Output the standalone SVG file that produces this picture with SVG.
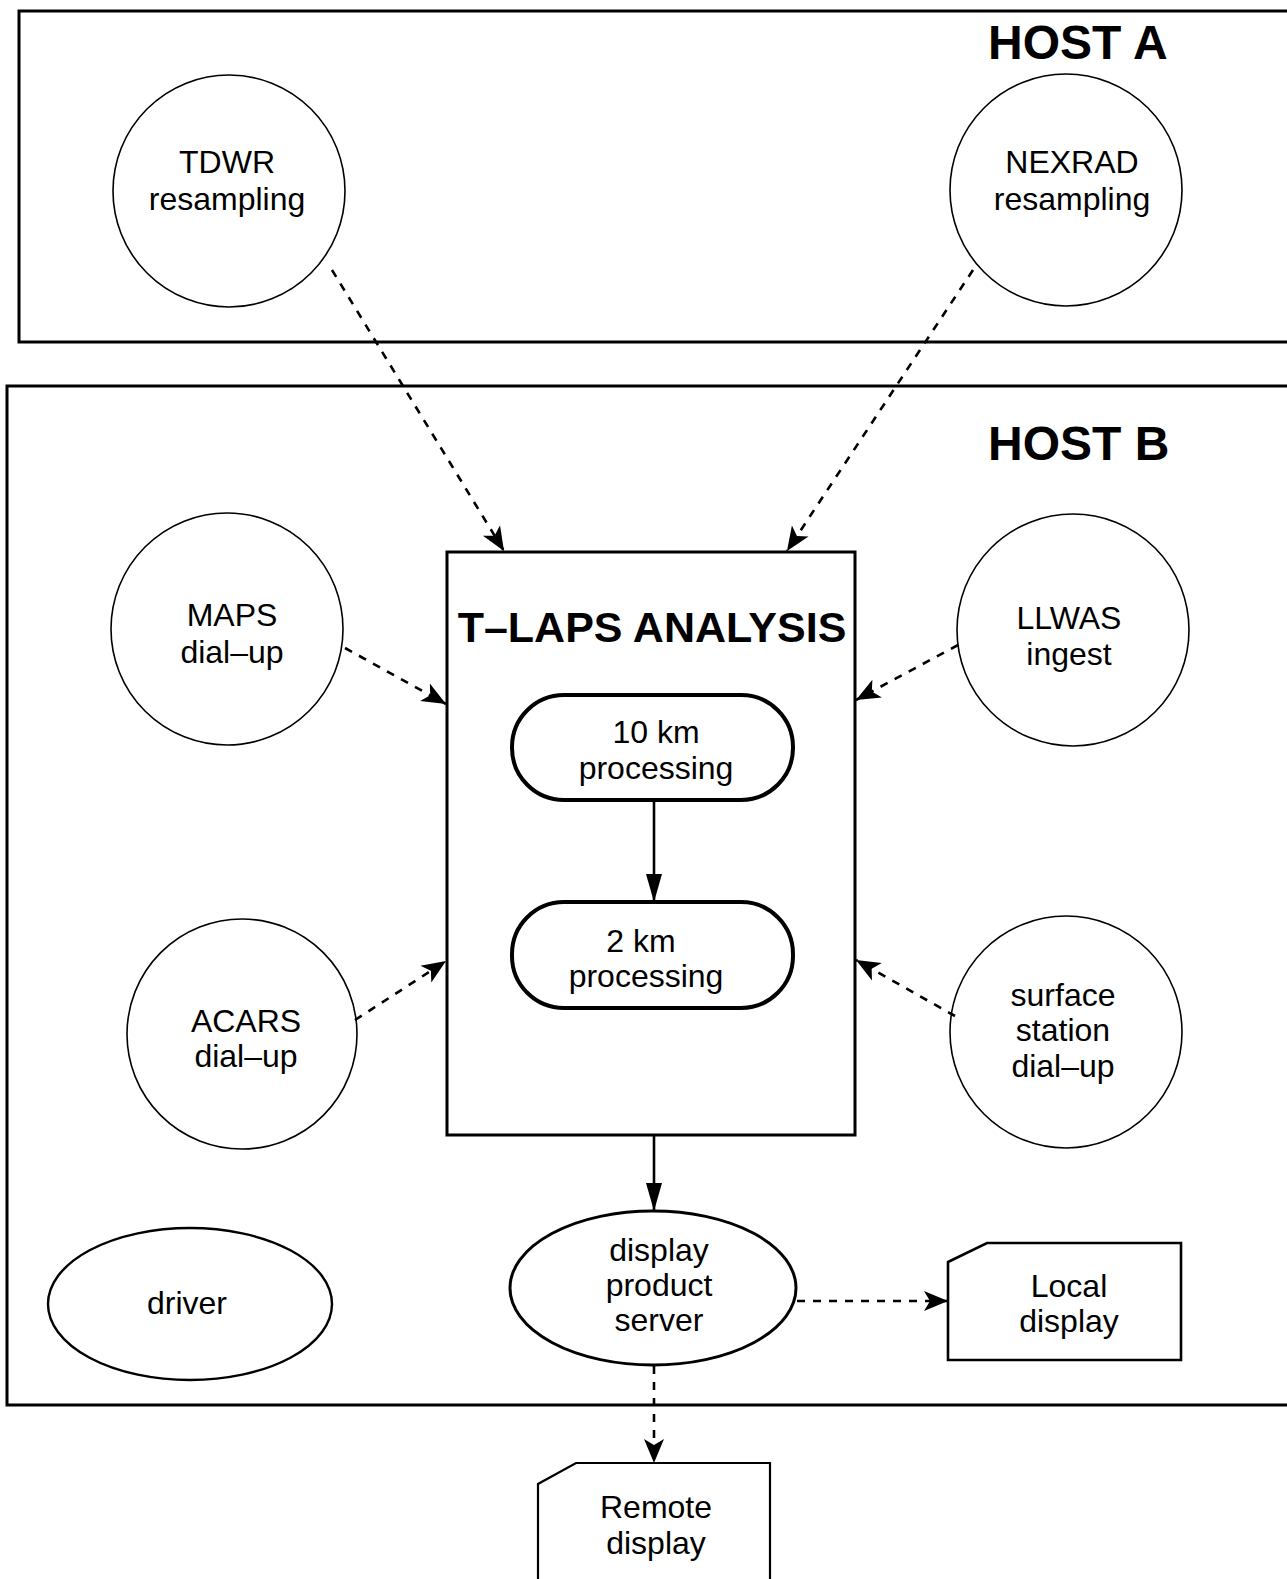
<svg xmlns="http://www.w3.org/2000/svg" width="1287" height="1579" viewBox="0 0 1287 1579">
<style>
  .host{fill:none;stroke:#000;stroke-width:3}
  .proc{fill:#fff;stroke:#000;stroke-width:1.6}
  .thick{fill:#fff;stroke:#000;stroke-width:3}
  .pill{fill:#fff;stroke:#000;stroke-width:4}
  .t{font-family:"Liberation Sans",Arial,Helvetica,sans-serif;font-size:32px;text-anchor:middle;fill:#000}
  .title{font-family:"Liberation Sans",Arial,Helvetica,sans-serif;font-weight:bold;fill:#000}
  .dash{fill:none;stroke:#000;stroke-width:2.6;stroke-dasharray:8 8}
  .solid{fill:none;stroke:#000;stroke-width:2.6}
</style>
<defs>
  <marker id="ah" markerUnits="userSpaceOnUse" markerWidth="26" markerHeight="22" refX="24" refY="11" orient="auto">
    <path d="M0,1 L24,11 L0,21 L6,11 z" fill="#000"/>
  </marker>
  <marker id="sh" markerUnits="userSpaceOnUse" markerWidth="30" markerHeight="18" refX="28" refY="9" orient="auto">
    <path d="M0,1 L28,9 L0,17 z" fill="#000"/>
  </marker>
</defs>

<g id="hostA">
  <path class="host" d="M1290,11 H19 V342 H1290"/>
  <text class="title" x="988" y="59" font-size="48">HOST A</text>
</g>
<g id="hostB">
  <path class="host" d="M1290,386 H7 V1405 H1290"/>
  <text class="title" x="988" y="460" font-size="48">HOST B</text>
</g>

<g id="tdwr">
  <circle class="proc" cx="229" cy="191" r="116"/>
  <text class="t" x="227" y="173">TDWR</text>
  <text class="t" x="227" y="210">resampling</text>
</g>
<g id="nexrad">
  <circle class="proc" cx="1066" cy="190" r="116"/>
  <text class="t" x="1072" y="173">NEXRAD</text>
  <text class="t" x="1072" y="210">resampling</text>
</g>

<g id="tlaps">
  <rect class="thick" x="447" y="552" width="408" height="583"/>
  <text class="title" x="652" y="642" font-size="43" text-anchor="middle">T–LAPS ANALYSIS</text>
</g>
<g id="p10">
  <rect class="pill" x="512" y="695" width="281" height="105" rx="52" ry="52"/>
  <text class="t" x="656" y="743">10 km</text>
  <text class="t" x="656" y="779">processing</text>
</g>
<g id="p2">
  <rect class="pill" x="512" y="902" width="281" height="106" rx="52" ry="52"/>
  <text class="t" x="641" y="952">2 km</text>
  <text class="t" x="646" y="987">processing</text>
</g>

<g id="maps">
  <circle class="proc" cx="227" cy="629" r="116"/>
  <text class="t" x="232" y="626">MAPS</text>
  <text class="t" x="232" y="663">dial–up</text>
</g>
<g id="llwas">
  <circle class="proc" cx="1073" cy="630" r="116"/>
  <text class="t" x="1069" y="629">LLWAS</text>
  <text class="t" x="1069" y="665">ingest</text>
</g>
<g id="acars">
  <circle class="proc" cx="242" cy="1034" r="115"/>
  <text class="t" x="246" y="1032">ACARS</text>
  <text class="t" x="246" y="1067">dial–up</text>
</g>
<g id="surface">
  <circle class="proc" cx="1066" cy="1032" r="116"/>
  <text class="t" x="1063" y="1006">surface</text>
  <text class="t" x="1063" y="1041">station</text>
  <text class="t" x="1063" y="1077">dial–up</text>
</g>

<g id="server">
  <ellipse class="thick" cx="653" cy="1288" rx="143" ry="77"/>
  <text class="t" x="659" y="1261">display</text>
  <text class="t" x="659" y="1296">product</text>
  <text class="t" x="659" y="1331">server</text>
</g>
<g id="driver">
  <ellipse class="proc" cx="190" cy="1304" rx="142" ry="76" style="stroke-width:2.4"/>
  <text class="t" x="187" y="1314">driver</text>
</g>
<g id="local">
  <path class="thick" d="M948,1262 L987,1243 H1181 V1360 H948 Z" style="stroke-width:2.6"/>
  <text class="t" x="1069" y="1297">Local</text>
  <text class="t" x="1069" y="1332">display</text>
</g>
<g id="remote">
  <path class="thick" d="M538,1584 V1484 L576,1463 H770 V1584" style="stroke-width:2.2"/>
  <text class="t" x="656" y="1518">Remote</text>
  <text class="t" x="656" y="1554">display</text>
</g>

<g id="connectors">
  <line class="dash" x1="332" y1="270" x2="504" y2="551" marker-end="url(#ah)"/>
  <line class="dash" x1="973" y1="270" x2="787" y2="551" marker-end="url(#ah)"/>
  <line class="dash" x1="345" y1="648" x2="446" y2="704" marker-end="url(#ah)"/>
  <line class="dash" x1="958" y1="645" x2="856" y2="700" marker-end="url(#ah)"/>
  <line class="dash" x1="355" y1="1020" x2="446" y2="961" marker-end="url(#ah)"/>
  <line class="dash" x1="955" y1="1016" x2="856" y2="960" marker-end="url(#ah)"/>
  <line class="dash" x1="797" y1="1301" x2="948" y2="1301" marker-end="url(#ah)"/>
  <line class="dash" x1="654" y1="1366" x2="654" y2="1463" marker-end="url(#ah)"/>
  <line class="solid" x1="654" y1="800" x2="654" y2="902" marker-end="url(#sh)"/>
  <line class="solid" x1="654" y1="1135" x2="654" y2="1211" marker-end="url(#sh)"/>
</g>
</svg>
